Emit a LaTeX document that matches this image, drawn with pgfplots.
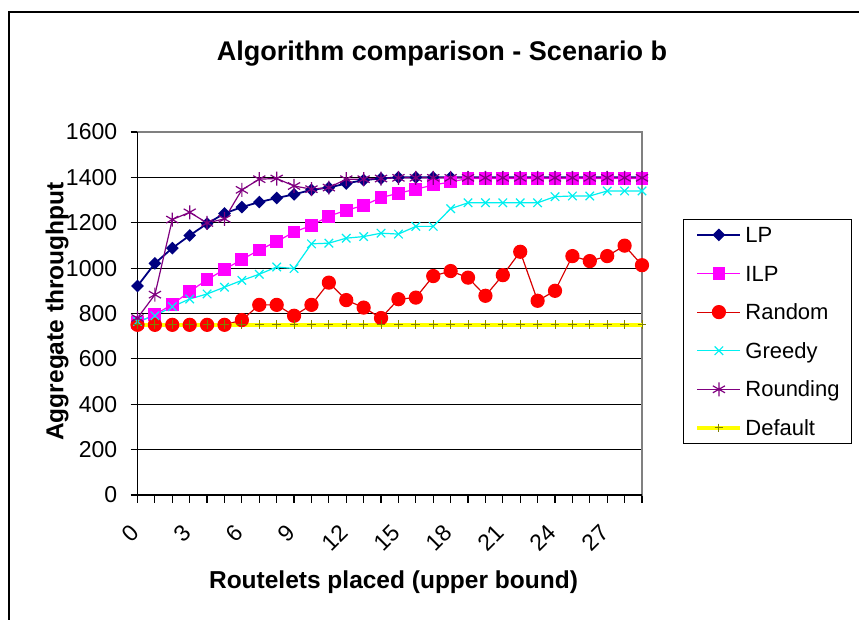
\documentclass[border=0pt]{standalone}
\usepackage{pgfplots}
\pgfplotsset{compat=1.18}
\usepackage{fontspec}
\setmainfont{Liberation Sans}
\definecolor{lpc}{RGB}{0,0,128}
\definecolor{ilpc}{RGB}{255,0,255}
\definecolor{rndc}{RGB}{255,0,0}
\definecolor{grc}{RGB}{0,240,240}
\definecolor{rdc}{RGB}{128,0,128}
\definecolor{defc}{RGB}{255,255,0}
\definecolor{defm}{RGB}{128,128,0}
\begin{document}
\begin{tikzpicture}
\useasboundingbox[fill=white] (0,0) rectangle (429.5pt,310pt);
\draw[line width=1pt] (4.5pt,0pt) -- (4.5pt,304pt) -- (429.5pt,304pt);
\node[anchor=base, font=\bfseries\fontsize{13.5}{16}\selectfont] at (221pt,279.5pt) {Algorithm comparison - Scenario b};
\node[rotate=90, font=\bfseries\fontsize{12.25}{14}\selectfont] at (28.5pt,154.25pt) {Aggregate throughput};
\node[anchor=base, font=\bfseries\fontsize{12.25}{14}\selectfont] at (196.75pt,15.5pt) {Routelets placed (upper bound)};
\begin{axis}[
  at={(68.75pt,62.5pt)}, anchor=south west, scale only axis,
  width=252.25pt, height=181.5pt,
  xmin=0, xmax=29, ymin=0, ymax=1600,
  xtick={0,...,29},
  xticklabels={0,,,3,,,6,,,9,,,12,,,15,,,18,,,21,,,24,,,27,,},
  ytick={0,200,...,1600},
  xtick pos=left, ytick pos=left,
  ymajorgrids, major grid style={black, line width=0.5pt},
  axis line style={gray, line width=0.6pt},
  ytick align=center, xtick align=outside,
  ytick style={black, line width=0.6pt, /pgfplots/major tick length=7pt},
  xtick style={black, line width=0.6pt, /pgfplots/major tick length=4pt},
  tick label style={font=\fontsize{11.5}{13}\selectfont, black},
  /pgf/number format/assume math mode=true,
  /pgf/number format/1000 sep={},
  xticklabel style={rotate=45, anchor=north east, xshift=-6.5pt, yshift=-0.5pt},
  yticklabel style={xshift=-4.5pt},
  clip=false,
  legend cell align=left,
  legend style={at={(1.0813,0.7603)}, anchor=north west, draw=black, fill=white,
    font=\fontsize{11}{13}\selectfont, inner xsep=6pt, inner ysep=3.5pt,
    row sep=10.8pt, column sep=1.5pt,
    nodes={inner sep=0pt, text height=8pt, text depth=0.5pt}},
  legend image code/.code={\draw[mark repeat=2,mark phase=2,#1] plot coordinates {(0pt,0pt) (10.75pt,0pt) (21.5pt,0pt)};},
]
\addplot[lpc, line width=0.9pt, mark=square*, mark size=1.8pt, mark options={rotate=45, solid, fill=lpc}] coordinates {
(0,921)(1,1021)(2,1088)(3,1144)(4,1196)(5,1241)(6,1269)(7,1291)(8,1309)(9,1325)
(10,1345)(11,1355)(12,1373)(13,1388)(14,1395)(15,1400)(16,1400)(17,1400)(18,1400)(19,1400)
(20,1400)(21,1400)(22,1400)(23,1400)(24,1400)(25,1400)(26,1400)(27,1400)(28,1400)(29,1400)};
\addlegendentry{LP}
\addplot[ilpc, line width=0.6pt, mark=square*, mark size=2.9pt, mark options={solid, fill=ilpc}] coordinates {
(0,760)(1,795)(2,840)(3,897)(4,949)(5,994)(6,1038)(7,1080)(8,1117)(9,1159)
(10,1188)(11,1229)(12,1255)(13,1276)(14,1311)(15,1330)(16,1348)(17,1366)(18,1380)(19,1395)
(20,1395)(21,1395)(22,1395)(23,1395)(24,1395)(25,1395)(26,1395)(27,1395)(28,1395)(29,1395)};
\addlegendentry{ILP}
\addplot[rndc!85!black, line width=0.6pt, mark=*, mark size=3.25pt, mark options={solid, fill=rndc, draw=rndc}] coordinates {
(0,750)(1,750)(2,750)(3,750)(4,750)(5,750)(6,771)(7,838)(8,838)(9,790)
(10,838)(11,936)(12,859)(13,826)(14,780)(15,863)(16,870)(17,965)(18,987)(19,958)
(20,878)(21,969)(22,1072)(23,856)(24,900)(25,1053)(26,1031)(27,1053)(28,1099)(29,1013)};
\addlegendentry{Random}
\addplot[grc, line width=0.6pt, mark=x, mark size=3pt, mark options={solid}] coordinates {
(0,765)(1,790)(2,830)(3,864)(4,886)(5,916)(6,946)(7,973)(8,1005)(9,998)
(10,1107)(11,1110)(12,1132)(13,1139)(14,1154)(15,1150)(16,1184)(17,1184)(18,1262)(19,1288)
(20,1288)(21,1288)(22,1288)(23,1288)(24,1315)(25,1318)(26,1318)(27,1340)(28,1340)(29,1340)};
\addlegendentry{Greedy}
\addplot[rdc, line width=0.6pt, mark=asterisk, mark size=3.5pt, mark options={solid}] coordinates {
(0,780)(1,883)(2,1214)(3,1246)(4,1199)(5,1217)(6,1345)(7,1392)(8,1395)(9,1362)
(10,1348)(11,1355)(12,1392)(13,1392)(14,1395)(15,1398)(16,1398)(17,1398)(18,1398)(19,1398)
(20,1398)(21,1398)(22,1398)(23,1398)(24,1398)(25,1398)(26,1398)(27,1398)(28,1398)(29,1398)};
\addlegendentry{Rounding}
\addplot[defc, line width=2pt, mark=+, mark size=2.2pt, mark options={solid, draw=defm, line width=0.5pt}] coordinates {
(0,750)(1,750)(2,750)(3,750)(4,750)(5,750)(6,750)(7,750)(8,750)(9,750)
(10,750)(11,750)(12,750)(13,750)(14,750)(15,750)(16,750)(17,750)(18,750)(19,750)
(20,750)(21,750)(22,750)(23,750)(24,750)(25,750)(26,750)(27,750)(28,750)(29,750)};
\addlegendentry{Default}
\draw[black, line width=0.7pt] (rel axis cs:0,1) -- (rel axis cs:0,0) -- (rel axis cs:1,0);
\end{axis}
\end{tikzpicture}
\end{document}
